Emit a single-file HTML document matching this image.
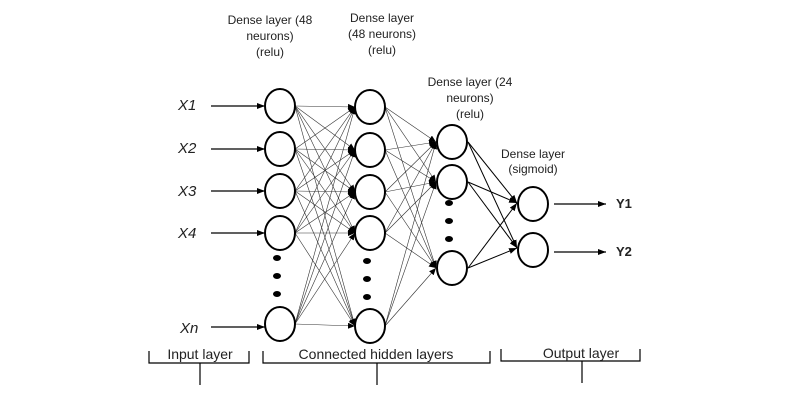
<!DOCTYPE html>
<html><head><style>
body{margin:0;background:#fff;}
svg text{font-family:"Liberation Sans",sans-serif;fill:#222;}
</style></head><body>
<svg width="800" height="400" viewBox="0 0 800 400" xmlns="http://www.w3.org/2000/svg">
<defs>
<marker id="a" markerWidth="8" markerHeight="6" refX="8" refY="3" orient="auto" markerUnits="userSpaceOnUse"><path d="M0,0 L8,3 L0,6z" fill="#000"/></marker>
<marker id="s" markerWidth="7" markerHeight="6" refX="7" refY="3" orient="auto" markerUnits="userSpaceOnUse"><path d="M0,0 L7,3 L0,6z" fill="#000"/></marker>
</defs>
<g font-size="12" text-anchor="middle">
<text x="270" y="24">Dense layer (48</text><text x="270" y="40">neurons)</text><text x="270" y="56">(relu)</text>
<text x="382" y="22">Dense layer</text><text x="382" y="38">(48 neurons)</text><text x="382" y="54">(relu)</text>
<text x="470" y="86">Dense layer (24</text><text x="470" y="102">neurons)</text><text x="470" y="118">(relu)</text>
<text x="533" y="158">Dense layer</text><text x="533" y="173">(sigmoid)</text>
</g>
<g font-family="Liberation Serif" font-style="italic" font-size="15">
<text x="178" y="110">X1</text><text x="178" y="153">X2</text><text x="178" y="196">X3</text><text x="178" y="238">X4</text><text x="180" y="333">Xn</text>
</g>
<g stroke="#000" stroke-width="1.2" marker-end="url(#a)">
<line x1="211" y1="106" x2="265" y2="106"/><line x1="211" y1="149" x2="265" y2="149"/><line x1="211" y1="191" x2="265" y2="191"/><line x1="211" y1="233" x2="265" y2="233"/><line x1="211" y1="327" x2="265" y2="327"/>
<line x1="554" y1="204" x2="606" y2="204"/><line x1="554" y1="252" x2="606" y2="252"/>
</g>
<text x="616" y="208" font-size="13" font-weight="bold" style="font-family:'Liberation Sans'">Y1</text>
<text x="616" y="256" font-size="13" font-weight="bold" style="font-family:'Liberation Sans'">Y2</text>
<g stroke="#333" stroke-width="0.6" marker-end="url(#s)">
<line x1="295" y1="106" x2="355" y2="107"/><line x1="295" y1="106" x2="355" y2="150"/><line x1="295" y1="106" x2="355" y2="192"/><line x1="295" y1="106" x2="355" y2="233"/><line x1="295" y1="106" x2="355" y2="326"/>
<line x1="295" y1="149" x2="355" y2="107"/><line x1="295" y1="149" x2="355" y2="150"/><line x1="295" y1="149" x2="355" y2="192"/><line x1="295" y1="149" x2="355" y2="233"/><line x1="295" y1="149" x2="355" y2="326"/>
<line x1="295" y1="191" x2="355" y2="107"/><line x1="295" y1="191" x2="355" y2="150"/><line x1="295" y1="191" x2="355" y2="192"/><line x1="295" y1="191" x2="355" y2="233"/><line x1="295" y1="191" x2="355" y2="326"/>
<line x1="295" y1="233" x2="355" y2="107"/><line x1="295" y1="233" x2="355" y2="150"/><line x1="295" y1="233" x2="355" y2="192"/><line x1="295" y1="233" x2="355" y2="233"/><line x1="295" y1="233" x2="355" y2="326"/>
<line x1="295" y1="324" x2="355" y2="107"/><line x1="295" y1="324" x2="355" y2="150"/><line x1="295" y1="324" x2="355" y2="192"/><line x1="295" y1="324" x2="355" y2="233"/><line x1="295" y1="324" x2="355" y2="326"/>
<line x1="385" y1="107" x2="436" y2="142"/><line x1="385" y1="107" x2="436" y2="182"/><line x1="385" y1="107" x2="436" y2="268"/>
<line x1="385" y1="150" x2="436" y2="142"/><line x1="385" y1="150" x2="436" y2="182"/><line x1="385" y1="150" x2="436" y2="268"/>
<line x1="385" y1="192" x2="436" y2="142"/><line x1="385" y1="192" x2="436" y2="182"/><line x1="385" y1="192" x2="436" y2="268"/>
<line x1="385" y1="233" x2="436" y2="142"/><line x1="385" y1="233" x2="436" y2="182"/><line x1="385" y1="233" x2="436" y2="268"/>
<line x1="385" y1="326" x2="436" y2="142"/><line x1="385" y1="326" x2="436" y2="182"/><line x1="385" y1="326" x2="436" y2="268"/>
</g>
<g stroke="#000" stroke-width="1" marker-end="url(#a)">
<line x1="468" y1="142" x2="517" y2="203"/><line x1="468" y1="142" x2="517" y2="248"/>
<line x1="468" y1="182" x2="517" y2="203"/><line x1="468" y1="182" x2="517" y2="248"/>
<line x1="468" y1="268" x2="517" y2="203"/><line x1="468" y1="268" x2="517" y2="248"/>
</g>
<g fill="#fff" stroke="#000" stroke-width="2">
<ellipse cx="280" cy="106" rx="15" ry="17"/><ellipse cx="280" cy="149" rx="15" ry="17"/><ellipse cx="280" cy="191" rx="15" ry="17"/><ellipse cx="280" cy="233" rx="15" ry="17"/><ellipse cx="280" cy="324" rx="15" ry="17"/>
<ellipse cx="370" cy="107" rx="15" ry="17"/><ellipse cx="370" cy="150" rx="15" ry="17"/><ellipse cx="370" cy="192" rx="15" ry="17"/><ellipse cx="370" cy="233" rx="15" ry="17"/><ellipse cx="370" cy="326" rx="15" ry="17"/>
<ellipse cx="452" cy="142" rx="15" ry="17"/><ellipse cx="452" cy="182" rx="15" ry="17"/><ellipse cx="452" cy="268" rx="15" ry="17"/>
<ellipse cx="533" cy="204" rx="15" ry="17"/><ellipse cx="533" cy="250" rx="15" ry="17"/>
</g>
<g fill="#000">
<ellipse cx="277" cy="258" rx="4" ry="3"/><ellipse cx="277" cy="276" rx="4" ry="3"/><ellipse cx="277" cy="294" rx="4" ry="3"/>
<ellipse cx="367" cy="261" rx="4" ry="3"/><ellipse cx="367" cy="279" rx="4" ry="3"/><ellipse cx="367" cy="297" rx="4" ry="3"/>
<ellipse cx="449" cy="203" rx="4" ry="3"/><ellipse cx="449" cy="221" rx="4" ry="3"/><ellipse cx="449" cy="239" rx="4" ry="3"/>
</g>
<g fill="none" stroke="#000" stroke-width="1.2">
<path d="M149,351 v12 h100 v-12"/><line x1="200" y1="363" x2="200" y2="385"/>
<path d="M263,351 v12 h227 v-12"/><line x1="377" y1="363" x2="377" y2="385"/>
<path d="M501,349 v12 h139 v-12"/><line x1="582" y1="361" x2="582" y2="383"/>
</g>
<g font-size="14" text-anchor="middle">
<text x="200" y="359">Input layer</text>
<text x="376" y="359">Connected hidden layers</text>
<text x="581" y="358">Output layer</text>
</g>
</svg>
</body></html>
